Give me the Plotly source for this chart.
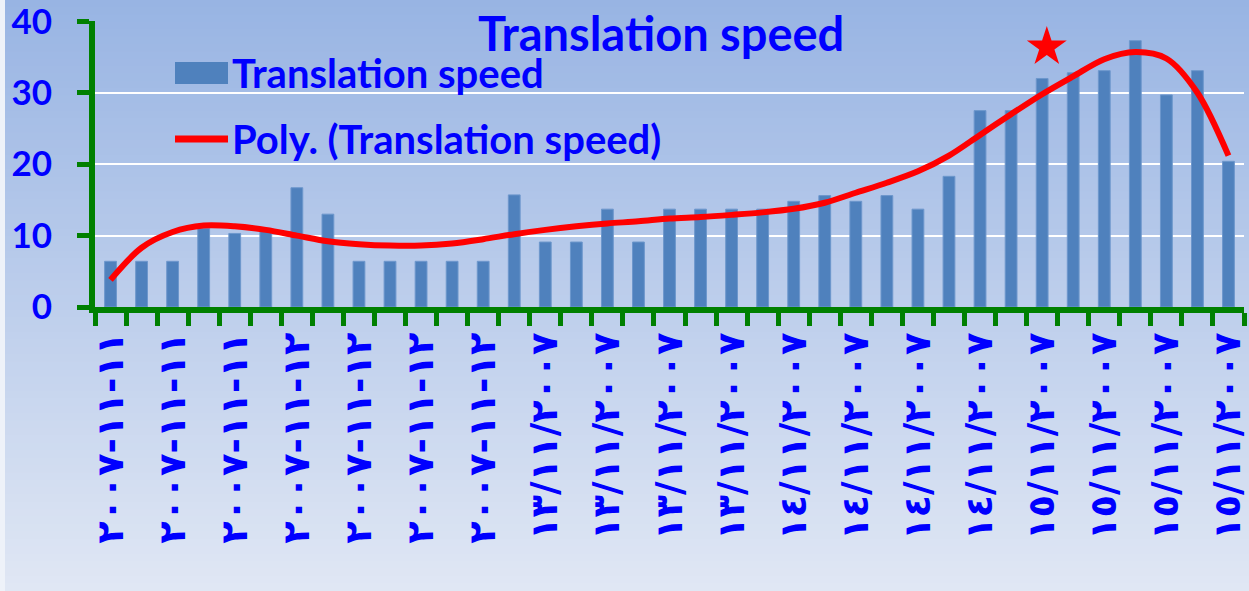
import plotly.graph_objects as go

# ---------------- data ----------------
speed = [6.4, 6.4, 6.4, 11.0, 10.3, 11.0, 16.7, 13.0, 6.4, 6.4, 6.4, 6.4, 6.4,
         15.7, 9.1, 9.1, 13.7, 9.1, 13.7, 13.7, 13.7, 13.7, 14.8, 15.6, 14.8,
         15.6, 13.7, 18.3, 27.5, 27.5, 32.0, 32.8, 33.1, 37.3, 29.7, 33.1, 20.4]

# polynomial trendline (one value per category)
trend = [3.8, 8.3, 10.5, 11.4, 11.3, 10.8, 10.0, 9.2, 8.8, 8.6, 8.6, 8.9, 9.5,
         10.2, 10.8, 11.3, 11.7, 12.0, 12.4, 12.6, 12.9, 13.25, 13.75, 14.6,
         16.0, 17.4, 19.0, 21.2, 24.1, 27.0, 29.8, 32.3, 34.7, 35.7, 34.8,
         30.0, 21.2]

tick_labels = ["١١-١١-٢٠٠٧", "١١-١١-٢٠٠٧", "١١-١١-٢٠٠٧",
               "١٢-١١-٢٠٠٧", "١٢-١١-٢٠٠٧", "١٢-١١-٢٠٠٧", "١٢-١١-٢٠٠٧",
               "١٣/١١/٢٠٠٧", "١٣/١١/٢٠٠٧", "١٣/١١/٢٠٠٧", "١٣/١١/٢٠٠٧",
               "١٤/١١/٢٠٠٧", "١٤/١١/٢٠٠٧", "١٤/١١/٢٠٠٧", "١٤/١١/٢٠٠٧",
               "١٥/١١/٢٠٠٧", "١٥/١١/٢٠٠٧", "١٥/١١/٢٠٠٧", "١٥/١١/٢٠٠٧"]

y_ticks = [0, 10, 20, 30, 40]
star_x = [30.15]
star_y = [36.4]

title_text = "Translation speed"
legend_bar = "Translation speed"
legend_line = "Poly. (Translation speed)"

# ---------------- layout geometry ----------------
W, H = 1249, 591
L, R, T, B = 95, 5, 21, 284
PW, PH = W - L - R, H - T - B


def px(x):
    return (x - L) / PW


def py(y):
    return (H - B - y) / PH


n = len(speed)
cats = list(range(n))
label_pos = list(range(0, n, 2))

BLUE = "#0000ff"
GREEN = "#008000"
BAR = "#4f81bd"
FONT = "Lato"

fig = go.Figure()
fig.add_trace(go.Bar(x=cats, y=speed, width=0.38,
                     marker=dict(color=BAR, line=dict(color="#6d97cc", width=1)),
                     name=legend_bar, showlegend=False))
fig.add_trace(go.Scatter(x=cats, y=trend, mode="lines",
                         line=dict(color="#ff0000", width=6, shape="spline", smoothing=0.9),
                         name=legend_line, showlegend=False))
fig.add_trace(go.Scatter(x=star_x, y=star_y, mode="markers", xaxis="x2",
                         marker=dict(symbol="star", size=30, color="#ff0000"),
                         showlegend=False, hoverinfo="skip"))

shapes = []
# background gradient
top_c = (152, 180, 227)
bot_c = (224, 231, 244)
N = 80
for k in range(N):
    y0p = H * k / N
    y1p = H * (k + 1) / N
    t = (k + 0.5) / N
    c = tuple(round(top_c[j] + (bot_c[j] - top_c[j]) * t) for j in range(3))
    shapes.append(dict(type="rect", xref="paper", yref="paper", layer="below",
                       x0=px(0), x1=px(W), y0=py(y1p + 0.5), y1=py(y0p - 0.5),
                       fillcolor="rgb(%d,%d,%d)" % c, line=dict(width=0)))
# light left border
shapes.append(dict(type="rect", xref="paper", yref="paper", layer="below",
                   x0=px(0), x1=px(5), y0=py(H), y1=py(0),
                   fillcolor="#eef2f9", line=dict(width=0)))
# manual legend swatches
shapes.append(dict(type="rect", xref="paper", yref="paper",
                   x0=px(175), x1=px(228), y0=py(84), y1=py(62),
                   fillcolor=BAR, line=dict(width=0)))
shapes.append(dict(type="line", xref="paper", yref="paper",
                   x0=px(175), x1=px(228), y0=py(139), y1=py(139),
                   line=dict(color="#ff0000", width=7)))

annotations = [
    dict(text=title_text, xref="paper", yref="paper", x=px(661), y=py(33),
         xanchor="center", yanchor="middle", showarrow=False,
         font=dict(family=FONT, size=47, color=BLUE, weight="bold")),
    dict(text=legend_bar, xref="paper", yref="paper", x=px(230), y=py(73),
         xanchor="left", yanchor="middle", showarrow=False,
         font=dict(family=FONT, size=40, color=BLUE, weight="bold")),
    dict(text=legend_line, xref="paper", yref="paper", x=px(230), y=py(139),
         xanchor="left", yanchor="middle", showarrow=False,
         font=dict(family=FONT, size=40, color=BLUE, weight="bold")),
]

fig.update_layout(
    width=W, height=H,
    margin=dict(l=L, r=R, t=T, b=B, autoexpand=False),
    paper_bgcolor="rgba(0,0,0,0)", plot_bgcolor="rgba(0,0,0,0)",
    showlegend=False,
    bargap=0.6,
    shapes=shapes,
    annotations=annotations,
    xaxis=dict(range=[-0.5, n - 0.5], tickmode="array",
               tickvals=[i - 0.5 for i in range(n + 1)], showticklabels=False,
               ticks="outside", ticklen=13, tickwidth=5, tickcolor=GREEN,
               showline=True, linecolor=GREEN, linewidth=6,
               showgrid=False, zeroline=False),
    xaxis2=dict(overlaying="x", anchor="y", side="bottom",
                range=[-0.5, n - 0.5], tickmode="array",
                tickvals=label_pos, ticktext=tick_labels, tickangle=-90,
                ticks="", showline=False, showgrid=False, zeroline=False,
                ticklabelstandoff=17, ticklabeloverflow="allow",
                tickfont=dict(family="DejaVu Sans", size=37, color=BLUE, weight="bold")),
    yaxis=dict(range=[0, 40.05], tickmode="array", tickvals=y_ticks,
               showgrid=True, gridcolor="#ffffff", gridwidth=2,
               showline=True, linecolor=GREEN, linewidth=6,
               ticks="outside", ticklen=12, tickwidth=5, tickcolor=GREEN,
               zeroline=False, ticklabelstandoff=18, ticklabeloverflow="allow",
               tickfont=dict(family=FONT, size=35, color=BLUE, weight="bold")),
)

fig.write_html("out.html")
